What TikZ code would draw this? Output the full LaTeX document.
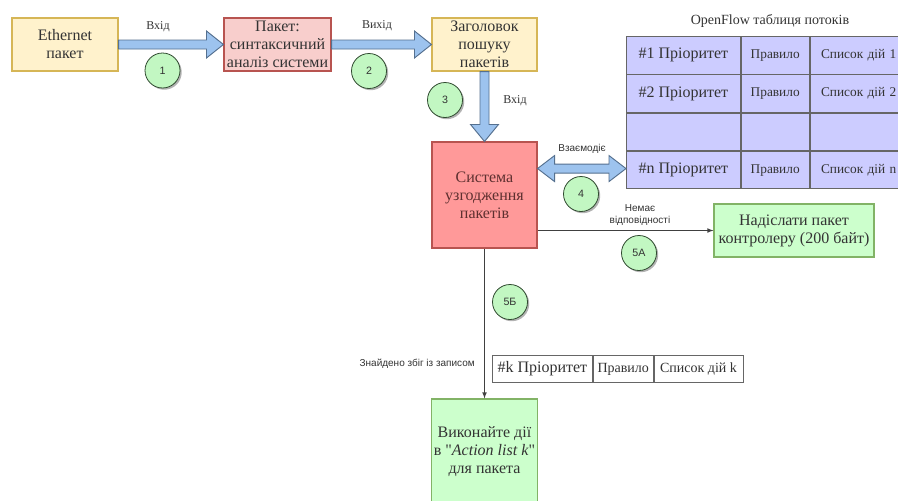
\documentclass[tikz,border=0pt]{standalone}
\usepackage{fontspec}
\setmainfont{Liberation Serif}
\newfontfamily\plainserif{Liberation Serif}[Ligatures=TeXOff]
\newfontfamily\labelsans{Liberation Sans}
\usetikzlibrary{calc,shadows}

\def\pxu{0.75pt}
\newcommand\straightquote{{\plainserif\char34}}

\definecolor{txt}{HTML}{333333}
\definecolor{yelFill}{HTML}{FFF2CC}
\definecolor{yelLine}{HTML}{D6B656}
\definecolor{pinkFill}{HTML}{F8CECC}
\definecolor{redLine}{HTML}{B85450}
\definecolor{redFill}{HTML}{FF9999}
\definecolor{redText}{HTML}{5E3030}
\definecolor{grnFill}{HTML}{CCFFCC}
\definecolor{grnLine}{HTML}{82B366}
\definecolor{lavFill}{HTML}{CCCCFF}
\definecolor{tblLine}{HTML}{666666}
\definecolor{arrFill}{HTML}{9DC3EE}
\definecolor{arrLine}{HTML}{55708F}
\definecolor{dotFill}{HTML}{C2F7C2}
\definecolor{dotLine}{HTML}{304A30}

\tikzset{
  boxtext/.style={align=center, text=txt, font=\fontsize{12}{13.5}\selectfont, inner sep=1pt},
  box/.style={boxtext, draw, line width=0.8pt},
  yelbox/.style={box, fill=yelFill, draw=yelLine},
  pinkbox/.style={box, fill=pinkFill, draw=redLine},
  redbox/.style={box, fill=redFill, draw=redLine, text=redText},
  grnbox/.style={box, fill=grnFill, draw=grnLine},
  blockarrow/.style={fill=arrFill, draw=arrLine, line width=0.7pt, line join=miter},
  flow/.style={draw=black!75, line width=0.6pt, -latex},
  stepdot/.style={circle, minimum size=35*\pxu, inner sep=0, fill=dotFill,
    draw=dotLine, line width=0.6pt, text=txt, font=\labelsans\fontsize{8}{9}\selectfont,
    drop shadow={shadow xshift=1.3pt, shadow yshift=-1.3pt, opacity=0.3, fill=black}},
  seriflabel/.style={text=txt, font=\fontsize{9}{11}\selectfont, inner sep=0},
  sanslabel/.style={text=txt, font=\labelsans\fontsize{7.5}{9}\selectfont, inner sep=0, align=center},
  cell/.style={draw=tblLine, fill=lavFill, line width=0.6pt, anchor=north west,
    minimum height=37.5*\pxu, inner sep=0, text=txt, font=\fontsize{10}{12}\selectfont},
  firstcell/.style={cell, minimum width=114*\pxu, font=\fontsize{12}{13}\selectfont},
  midcell/.style={cell, minimum width=68*\pxu},
  lastcell/.style={cell, text width=90*\pxu, inner xsep=11*\pxu, align=left},
  kcell/.style={draw=tblLine, fill=white, line width=0.6pt, anchor=north west,
    minimum height=27*\pxu, inner sep=0, text=txt, font=\fontsize{10.5}{12}\selectfont},
}

\begin{document}
\begin{tikzpicture}[x=0.75pt, y=-0.75pt]
\useasboundingbox (0,0) rectangle (898,500);
\fill[white] (0,0) rectangle (898,500);

% process boxes
\node[yelbox, minimum width=106*\pxu, minimum height=53*\pxu] (eth) at (65,44.5) {Ethernet\\пакет};
\node[pinkbox, minimum width=107*\pxu, minimum height=53*\pxu] (pkt) at (277.5,44.5) {Пакет:\\синтаксичний\\аналіз системи};
\node[yelbox, minimum width=105*\pxu, minimum height=53*\pxu] (zag) at (484.5,44.5) {Заголовок\\пошуку\\пакетів};
\node[redbox, minimum width=105*\pxu, minimum height=106*\pxu] (sys) at (484.5,195) {Система\\узгодження\\пакетів};
\node[grnbox, minimum width=160*\pxu, minimum height=53*\pxu] (send) at (794,230.5) {Надіслати пакет\\контролеру (200 байт)};
\node[grnbox, minimum width=106*\pxu, minimum height=116*\pxu] (exec) at (484.5,457) {};
\node[boxtext] (exect) at (484.5,452) {Виконайте дії\\в \straightquote\textit{Action list k}\straightquote\\для пакета};

% flow table
\node[font=\fontsize{10.5}{12}\selectfont, text=txt] (ttl) at (770,21) {OpenFlow таблиця потоків};
\fill[black, opacity=0.12] (628,38) rectangle (900,189);
\node[firstcell] (r1c1) at (626,36) {\#1 Пріоритет};
\node[midcell] (r1c2) at (r1c1.north east) {Правило};
\node[lastcell] (r1c3) at (r1c2.north east) {Список дій 1};
\node[firstcell] (r2c1) at (r1c1.south west) {\#2 Пріоритет};
\node[midcell] (r2c2) at (r2c1.north east) {Правило};
\node[lastcell] (r2c3) at (r2c2.north east) {Список дій 2};
\node[firstcell] (r3c1) at (r2c1.south west) {};
\node[midcell] (r3c2) at (r3c1.north east) {};
\node[lastcell] (r3c3) at (r3c2.north east) {};
\node[firstcell] (rnc1) at (r3c1.south west) {\#n Пріоритет};
\node[midcell] (rnc2) at (rnc1.north east) {Правило};
\node[lastcell] (rnc3) at (rnc2.north east) {Список дій n};

% matched entry
\node[kcell, minimum width=100*\pxu, font=\fontsize{12}{13}\selectfont] (k1) at (492,355) {\#k Пріоритет};
\node[kcell, minimum width=60*\pxu] (k2) at (k1.north east) {Правило};
\node[kcell, minimum width=89*\pxu] (k3) at (k2.north east) {Список дій k};

% block arrows
\draw[blockarrow] ($(eth.east)+(0,-4.5)$) -- ($(pkt.west)+(-17,-4.5)$) -- ($(pkt.west)+(-17,-13.5)$)
  -- (pkt.west) -- ($(pkt.west)+(-17,13.5)$) -- ($(pkt.west)+(-17,4.5)$) -- ($(eth.east)+(0,4.5)$) -- cycle;
\draw[blockarrow] ($(pkt.east)+(0,-4.5)$) -- ($(zag.west)+(-17,-4.5)$) -- ($(zag.west)+(-17,-13.5)$)
  -- (zag.west) -- ($(zag.west)+(-17,13.5)$) -- ($(zag.west)+(-17,4.5)$) -- ($(pkt.east)+(0,4.5)$) -- cycle;
\draw[blockarrow] ($(zag.south)+(-4.5,0)$) -- ($(sys.north)+(-4.5,-17)$) -- ($(sys.north)+(-14,-17)$)
  -- (sys.north) -- ($(sys.north)+(14,-17)$) -- ($(sys.north)+(4.5,-17)$) -- ($(zag.south)+(4.5,0)$) -- cycle;
\coordinate (dA) at (sys.east |- rnc1.west);
\coordinate (dB) at (rnc1.west);
\draw[blockarrow] ($(dA)+(0,-1.5)$) -- ($(dA)+(17,-14.5)$) -- ($(dA)+(17,-6)$) -- ($(dB)+(-17,-6)$)
  -- ($(dB)+(-17,-14.5)$) -- ($(dB)+(0,-1.5)$) -- ($(dB)+(-17,11.5)$) -- ($(dB)+(-17,3)$)
  -- ($(dA)+(17,3)$) -- ($(dA)+(17,11.5)$) -- cycle;

% thin connectors
\draw[flow] (sys.east |- send.west) -- (send.west);
\draw[flow] (sys.south) -- (exec.north);

% labels
\node[seriflabel] (l1) at (158,27) {Вхід};
\node[seriflabel] (l2) at (377,26) {Вихід};
\node[seriflabel] (l3) at (515,101) {Вхід};
\node[sanslabel] (l4) at (582,149) {Взаємодіє};
\node[sanslabel] (l5) at (640,215) {Немає\\відповідності};
\node[sanslabel, anchor=east] (l6) at (475,364) {Знайдено збіг із записом};

% step markers
\node[stepdot] (s1) at (162.5,70.5) {1};
\node[stepdot] (s2) at (369,71) {2};
\node[stepdot] (s3) at (445,100) {3};
\node[stepdot] (s4) at (581,194) {4};
\node[stepdot] (s5a) at (639,253) {5А};
\node[stepdot] (s5b) at (510,302) {5Б};
\end{tikzpicture}
\end{document}
